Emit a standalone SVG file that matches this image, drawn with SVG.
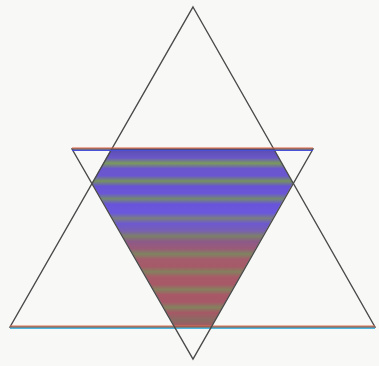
<svg xmlns="http://www.w3.org/2000/svg" width="379" height="366" viewBox="0 0 379 366">
<style>
.edge{fill:none;stroke:#4a4a4a;stroke-width:1.4;stroke-linejoin:miter}
</style>
<defs>
<linearGradient id="stripes" gradientUnits="userSpaceOnUse" x1="0" y1="149" x2="0" y2="327">
<stop offset="0" stop-color="#5a4cb0"/>
<stop offset="0.05" stop-color="#6a58c8"/>
<stop offset="0.08" stop-color="#7a9a5a"/>
<stop offset="0.11" stop-color="#6a56cc"/>
<stop offset="0.15" stop-color="#6a56d0"/>
<stop offset="0.18" stop-color="#76925e"/>
<stop offset="0.21" stop-color="#6652d4"/>
<stop offset="0.25" stop-color="#6a56d6"/>
<stop offset="0.28" stop-color="#748a70"/>
<stop offset="0.31" stop-color="#6854da"/>
<stop offset="0.36" stop-color="#6a58dc"/>
<stop offset="0.39" stop-color="#7a7e80"/>
<stop offset="0.42" stop-color="#6c58d0"/>
<stop offset="0.46" stop-color="#7860b0"/>
<stop offset="0.49" stop-color="#7c8068"/>
<stop offset="0.52" stop-color="#8c5a88"/>
<stop offset="0.56" stop-color="#9a5a78"/>
<stop offset="0.59" stop-color="#7e8460"/>
<stop offset="0.62" stop-color="#a45c6c"/>
<stop offset="0.66" stop-color="#a65a68"/>
<stop offset="0.69" stop-color="#84805e"/>
<stop offset="0.72" stop-color="#a85a68"/>
<stop offset="0.76" stop-color="#a85866"/>
<stop offset="0.79" stop-color="#86805e"/>
<stop offset="0.82" stop-color="#a85866"/>
<stop offset="0.86" stop-color="#a65868"/>
<stop offset="0.89" stop-color="#84825e"/>
<stop offset="0.92" stop-color="#a65866"/>
<stop offset="0.96" stop-color="#8a6a62"/>
<stop offset="1" stop-color="#a45866"/>
</linearGradient>
</defs>
<rect width="379" height="366" fill="#f8f8f7"/>
<g id="intersection">
<polygon points="111,149 274,149 293,183 211,327 175,327 92,183" fill="url(#stripes)"/>
</g>
<g id="upward-triangle">
<polygon class="edge" points="193,7 375,327 10,327"/>
<line x1="10" y1="326" x2="375" y2="326" stroke="#e07050" stroke-width="1"/>
<line x1="10" y1="328.3" x2="375" y2="328.3" stroke="#50b8e0" stroke-width="1.2"/>
</g>
<g id="downward-triangle">
<polygon class="edge" points="72,149 313,149 193,359"/>
<line x1="72" y1="148" x2="313" y2="148" stroke="#e06040" stroke-width="1"/>
<line x1="72" y1="150.3" x2="313" y2="150.3" stroke="#4a50d8" stroke-width="1.2"/>
</g>
</svg>
